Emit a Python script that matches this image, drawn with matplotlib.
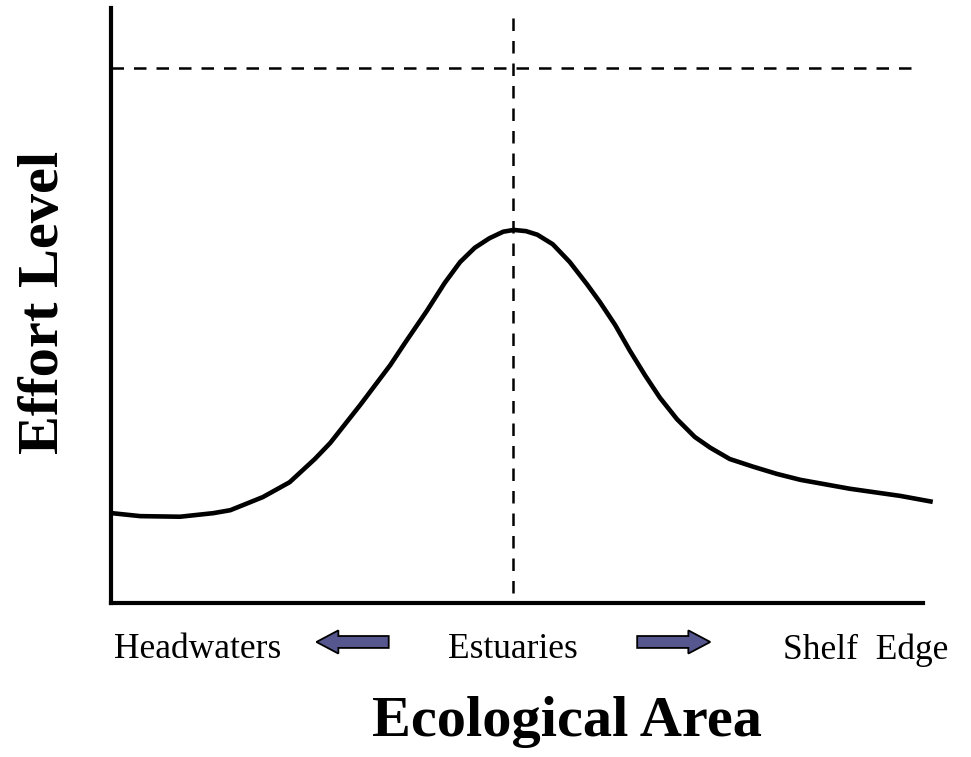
import matplotlib
matplotlib.use("Agg")
import matplotlib.pyplot as plt
from matplotlib.patches import FancyArrow

# Curve data (ecological position 0-100, effort level 0-100)
curve_x = [0.1, 3.6, 8.5, 12.6, 14.7, 18.7, 22.0, 25.1, 27.0, 30.7, 34.4, 36.2,
           38.9, 41.1, 42.99, 44.8, 46.6, 48.3, 49.6, 51.1, 52.5, 54.4, 56.5,
           58.6, 60.2, 62.1, 63.9, 65.8, 67.6, 69.7, 71.9, 73.8, 76.2, 79.1,
           82.0, 84.9, 91.0, 97.2, 101.2]
curve_y = [15.1, 14.6, 14.5, 15.1, 15.6, 17.8, 20.3, 24.2, 26.9, 33.3, 40.0, 43.7,
           49.1, 53.8, 57.3, 59.7, 61.3, 62.4, 62.7, 62.5, 61.9, 60.3, 57.3,
           53.6, 50.6, 46.7, 42.4, 38.2, 34.5, 30.9, 27.9, 26.1, 24.2, 22.9,
           21.7, 20.7, 19.2, 18.0, 17.0]
max_level = 89.9
peak_x = 49.5
tick_labels = ["Headwaters", "Estuaries", "Shelf  Edge"]
xlabel = "Ecological Area"
ylabel = "Effort Level"

plt.rcParams['font.family'] = ['Liberation Serif', 'DejaVu Serif']

fig = plt.figure(figsize=(9.71, 7.57), dpi=100)
ax = fig.add_axes([111/971, 154/757, 812/971, 595/757])
ax.set_xlim(0, 100)
ax.set_ylim(0, 100)

ax.plot(curve_x, curve_y, color='black', lw=3.3, clip_on=False,
        solid_capstyle='butt', solid_joinstyle='round', antialiased=True)
ax.plot([0, 99.4], [max_level, max_level], color='black', lw=1.8, dashes=(5, 4))
ax.plot([peak_x, peak_x], [98.3, 0], color='black', lw=1.8, dashes=(5, 4))

for s in ['top', 'right']:
    ax.spines[s].set_visible(False)
for s in ['left', 'bottom']:
    ax.spines[s].set_linewidth(3.0)
ax.set_xticks([])
ax.set_yticks([])

arrow_color = '#56578f'
ax.add_patch(FancyArrow(34.2, -6.55, -8.9, 0, width=2.0, head_width=3.9,
                        head_length=2.7, length_includes_head=True,
                        facecolor=arrow_color, edgecolor='black', lw=1.3, clip_on=False))
ax.add_patch(FancyArrow(64.8, -6.55, 9.0, 0, width=2.0, head_width=3.9,
                        head_length=2.7, length_includes_head=True,
                        facecolor=arrow_color, edgecolor='black', lw=1.3, clip_on=False))

H = 757
fig.text(198/971, 1 - 650/H, tick_labels[0], ha='center', va='center', fontsize=25.5)
fig.text(513/971, 1 - 650/H, tick_labels[1], ha='center', va='center', fontsize=25.5)
fig.text(866/971, 1 - 650/H, tick_labels[2], ha='center', va='center', fontsize=25.5)
fig.text(567/971, 1 - 722/H, xlabel, ha='center', va='center', fontsize=42, fontweight='bold')
fig.text(44/971, 1 - 302/H, ylabel, ha='center', va='center', fontsize=42,
         fontweight='bold', rotation=90)

fig.savefig('out.png', dpi=100)
